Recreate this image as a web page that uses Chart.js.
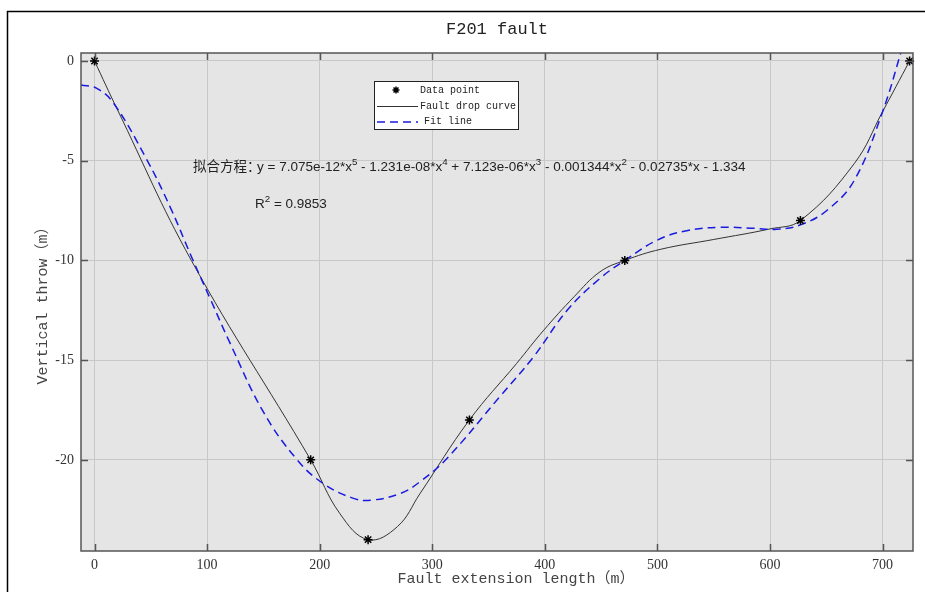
<!DOCTYPE html>
<html>
<head>
<meta charset="utf-8">
<script src="https://cdn.jsdelivr.net/npm/chart.js@4.4.0/dist/chart.umd.min.js"></script>
<style>body{margin:0;background:#fff}</style>
</head>
<body>
<canvas id="chart" width="925" height="592"></canvas>
<script>
'use strict';

// measured points (the * markers)
const pointX = [0, 192, 243, 333, 471, 627, 724];
const pointY = [0, -20, -24, -18, -10, -8, 0];

// fault drop curve
const curveX = [0, 20, 86, 192, 218, 243, 269, 289, 333, 375, 399, 426, 449, 471, 503, 550, 600, 627, 675, 700, 724];
const curveY = [0, -2.4, -10, -20, -22.7, -24, -23.35, -21.7, -18, -15.16, -13.5, -11.82, -10.57, -10, -9.44, -8.95, -8.42, -8, -5.13, -2.54, 0];

// fit line (5th order polynomial)
const fitX = [-12, 2, 17, 46, 67, 86, 103, 120, 150, 180, 203, 230, 246, 272, 289, 313, 360, 390, 420, 449, 471, 500, 526, 556, 586, 606, 627, 651, 675, 700, 716, 722];
const fitY = [-1.2, -1.37, -2.12, -4.9, -7.3, -9.8, -11.95, -14.1, -17.6, -20, -21.18, -21.93, -22.02, -21.68, -21.1, -19.93, -16.83, -14.83, -12.49, -10.9, -10, -8.98, -8.51, -8.34, -8.39, -8.44, -8.22, -7.47, -5.97, -2.54, 0.38, 1.6];

// tick labels
const xTicks = [0, 100, 200, 300, 400, 500, 600, 700];
const yTicks = [0, -5, -10, -15, -20];

// text
const titleText = 'F201 fault';
const xTitle = 'Fault extension length（m）';
const yTitle = 'Vertical throw（m）';
const eqLabel = '拟合方程：';
// normal / superscript pieces, alternating
const eqParts = ['y = 7.075e-12*x', '5', ' - 1.231e-08*x', '4', ' + 7.123e-06*x', '3', ' - 0.001344*x', '2', ' - 0.02735*x - 1.334'];
const r2Parts = ['R', '2', ' = 0.9853'];

function toXY(xs, ys) {
    return xs.map((x, i) => ({ x: x, y: ys[i] }));
}

// draws text with every second piece as superscript
function drawRich(ctx, parts, x, y, size) {
    for (let i = 0; i < parts.length; i++) {
        const sup = i % 2 === 1;
        ctx.font = (sup ? size * 0.72 : size) + 'px "Liberation Sans", Arial, sans-serif';
        ctx.fillText(parts[i], x, sup ? y - size * 0.42 : y);
        x += ctx.measureText(parts[i]).width;
    }
}

function drawStar(ctx, x, y, r) {
    ctx.beginPath();
    for (let k = 0; k < 4; k++) {
        const a = k * Math.PI / 4;
        ctx.moveTo(x - r * Math.cos(a), y - r * Math.sin(a));
        ctx.lineTo(x + r * Math.cos(a), y + r * Math.sin(a));
    }
    ctx.stroke();
}

const decorations = {
    id: 'decorations',
    beforeDraw(chart) {
        const ctx = chart.ctx;
        const a = chart.chartArea;
        ctx.save();
        ctx.fillStyle = '#fff';
        ctx.fillRect(0, 0, chart.width, chart.height);
        // outer frame
        ctx.strokeStyle = '#000';
        ctx.lineWidth = 1.5;
        ctx.strokeRect(7.5, 11.5, 960, 640);
        // plot background
        ctx.fillStyle = '#e5e5e5';
        ctx.fillRect(a.left, a.top, a.right - a.left, a.bottom - a.top);
        ctx.restore();
    },
    afterDraw(chart) {
        const ctx = chart.ctx;
        const a = chart.chartArea;
        const xs = chart.scales.x;
        const ys = chart.scales.y;
        ctx.save();

        // inner tick marks
        ctx.strokeStyle = '#555';
        ctx.lineWidth = 1.5;
        ctx.beginPath();
        xTicks.forEach(v => {
            const px = Math.round(xs.getPixelForValue(v)) + 0.5;
            ctx.moveTo(px, a.bottom); ctx.lineTo(px, a.bottom - 7);
            ctx.moveTo(px, a.top); ctx.lineTo(px, a.top + 7);
        });
        yTicks.forEach(v => {
            const py = Math.round(ys.getPixelForValue(v)) + 0.5;
            ctx.moveTo(a.left, py); ctx.lineTo(a.left + 7, py);
            ctx.moveTo(a.right, py); ctx.lineTo(a.right - 7, py);
        });
        ctx.stroke();
        // axes box
        ctx.strokeRect(a.left, a.top, a.right - a.left, a.bottom - a.top);

        // title and axis titles
        ctx.fillStyle = '#222';
        ctx.textAlign = 'center';
        ctx.textBaseline = 'middle';
        ctx.font = '17px "Liberation Mono", monospace';
        ctx.fillText(titleText, (a.left + a.right) / 2, 29);
        ctx.fillStyle = '#444';
        ctx.font = '15px "Liberation Mono", "Noto Sans CJK SC", monospace';
        ctx.fillText(xTitle, 516, 579);
        ctx.save();
        ctx.translate(43, (a.top + a.bottom) / 2);
        ctx.rotate(-Math.PI / 2);
        ctx.fillText(yTitle, 0, 0);
        ctx.restore();

        // legend
        ctx.fillStyle = '#fff';
        ctx.fillRect(374, 81, 144, 48);
        ctx.strokeStyle = '#222';
        ctx.lineWidth = 1;
        ctx.strokeRect(374.5, 81.5, 144, 48);
        ctx.strokeStyle = '#000';
        ctx.lineWidth = 1.5;
        drawStar(ctx, 396, 90, 3.5);
        ctx.strokeStyle = '#333';
        ctx.lineWidth = 1;
        ctx.beginPath(); ctx.moveTo(377, 106.5); ctx.lineTo(418, 106.5); ctx.stroke();
        ctx.strokeStyle = '#1a1ae0';
        ctx.lineWidth = 1.5;
        ctx.setLineDash([8, 5]);
        ctx.beginPath(); ctx.moveTo(377, 122); ctx.lineTo(418, 122); ctx.stroke();
        ctx.setLineDash([]);
        ctx.fillStyle = '#222';
        ctx.textAlign = 'left';
        ctx.font = '10px "Liberation Mono", monospace';
        ctx.fillText('Data point', 420, 90);
        ctx.fillText('Fault drop curve', 420, 106);
        ctx.fillText('Fit line', 424, 121);

        // fit equation
        ctx.textBaseline = 'alphabetic';
        ctx.fillStyle = '#222';
        ctx.font = '13.5px "Noto Sans CJK SC", sans-serif';
        ctx.fillText(eqLabel, 193, 171);
        drawRich(ctx, eqParts, 257, 171, 13.5);
        drawRich(ctx, r2Parts, 255, 208, 13.5);

        ctx.restore();
    }
};

new Chart(document.getElementById('chart'), {
    type: 'scatter',
    data: {
        datasets: [
            {
                label: 'Data point',
                data: toXY(pointX, pointY),
                pointStyle: 'star',
                pointRadius: 4.5,
                borderColor: '#000',
                backgroundColor: '#000',
                borderWidth: 1.5,
                clip: false
            },
            {
                label: 'Fit line',
                data: toXY(fitX, fitY),
                showLine: true,
                pointRadius: 0,
                borderColor: '#1a1ae0',
                borderWidth: 1.5,
                borderDash: [8, 5],
                tension: 0.4,
                clip: 0
            },
            {
                label: 'Fault drop curve',
                data: toXY(curveX, curveY),
                showLine: true,
                pointRadius: 0,
                borderColor: '#333',
                borderWidth: 1,
                tension: 0.4
            }
        ]
    },
    options: {
        responsive: false,
        animation: false,
        layout: { padding: { top: 53, right: 12, left: 0, bottom: 0 } },
        plugins: {
            legend: { display: false },
            tooltip: { enabled: false }
        },
        scales: {
            x: {
                type: 'linear',
                min: -12,
                max: 727,
                afterFit: s => { s.height = 41; },
                afterBuildTicks: s => { s.ticks = xTicks.map(v => ({ value: v })); },
                grid: { color: '#c8c8c8', drawTicks: false },
                border: { display: false },
                ticks: { padding: 6, color: '#333', font: { family: '"Liberation Serif", serif', size: 14 } }
            },
            y: {
                type: 'linear',
                min: -24.57,
                max: 0.4,
                afterFit: s => { s.width = 81; },
                afterBuildTicks: s => { s.ticks = yTicks.map(v => ({ value: v })); },
                grid: { color: '#c8c8c8', drawTicks: false },
                border: { display: false },
                ticks: { padding: 7, color: '#333', font: { family: '"Liberation Serif", serif', size: 14 } }
            }
        }
    },
    plugins: [decorations]
});
</script>
</body>
</html>
